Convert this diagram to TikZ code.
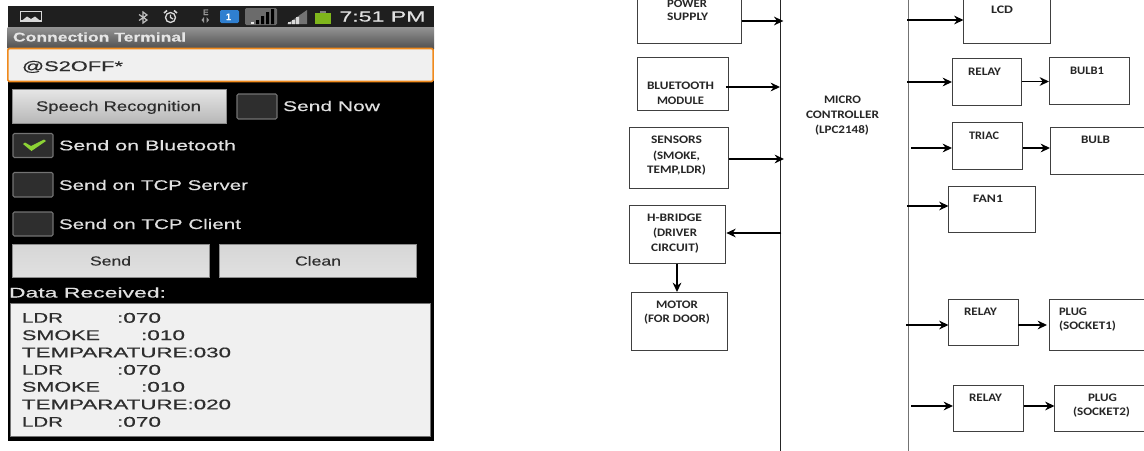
\documentclass[tikz,border=0pt]{standalone}
\usepackage{fontspec}
\usepackage{graphicx}
\setmainfont[FakeBold=0.35]{Liberation Sans}
\newfontfamily\blkfont{Carlito}[BoldFont={Carlito Bold}]
\usetikzlibrary{arrows.meta}
\newdimen\px \px=0.75pt
\newcount\tc
\definecolor{badge}{HTML}{2F7FD0}
\definecolor{batt}{HTML}{7FB61C}
\definecolor{tick}{HTML}{8CD235}
\definecolor{edge}{HTML}{F08A1C}
\tikzset{
  x=0.75pt,y=-0.75pt,
  uitext/.style={anchor=base west,inner sep=0pt,outer sep=0pt,font=\fontsize{10.5}{12}\selectfont},
  uilight/.style={uitext,text=white!88!black},
  uidark/.style={uitext,text=black!82},
  uibold/.style={uitext,text=white!90!black,font=\fontsize{9.5}{11}\bfseries\selectfont},
  blktext/.style={anchor=base west,inner sep=0pt,outer sep=0pt,text=black!85,font=\blkfont\fontsize{8.6}{10}\bfseries\selectfont},
  blk/.style={draw=black!75,line width=0.75pt,fill=none,inner sep=0pt,outer sep=0pt},
  arr/.style={draw=black,line width=1.25pt,-{Stealth[length=7pt,width=6.5pt]}},
  chk/.style={draw=black!55,fill=black!82,line width=0.8pt,rounded corners=1pt},
  btn/.style={draw=black!45,line width=0.4pt,top color=white!90!black,bottom color=white!72!black},
  btnb/.style={draw=black!45,line width=0.4pt,top color=white!84!black,bottom color=white!88!black},
}
\newcommand\tx[5]{\global\advance\tc by 1 \node[#1] (tx\the\tc) at (#2,#3) {\resizebox{#4\px}{\height}{#5}};}
\newcommand\dataline[6]{\global\advance\tc by 1 \node[uidark] (tx\the\tc) at (#1,#2) {\resizebox{#3\px}{\height}{#4}\hspace*{#5\px}\resizebox{44\px}{\height}{#6}};}
\newcommand\bx[6][]{\node[blk,#1,minimum width={(#5-#3)*0.75pt},minimum height={(#6-#4)*0.75pt}] (#2) at ({(#3+#5)/2},{(#4+#6)/2}) {};}
\begin{document}
\begin{tikzpicture}
\path[use as bounding box,clip] (0,0) rectangle (1144,450);
\fill[white] (0,0) rectangle (1144,450);
% phone
\fill[black] (7.5,6) rectangle (434,441);
\fill[black!88] (7.5,6) rectangle (434,27);
\shade[top color=black!42,bottom color=black!68] (7.5,27) rectangle (434,48);
% status icons
\draw[white!85!black,line width=0.9pt] (20.5,11.5) rectangle (41.5,21);
\fill[white!85!black] (22,20.5) -- (27,16.5) -- (31,19) -- (35,16.5) -- (40,20.5) -- cycle;
\draw[black!25,line width=0.9pt] (139,14.5) -- (147,20) -- (143,23) -- (143,12) -- (147,15) -- (139,20.5);
\draw[black!15,line width=1pt] (170.5,17.5) circle[radius=5];
\draw[black!15,line width=1pt] (170.5,14.5) -- (170.5,17.5) -- (173,19);
\draw[black!15,line width=1.2pt] (164,13) -- (167,10.5) (174,10.5) -- (177,13);
\tx{uitext,text=black!40,font=\fontsize{6}{7}\bfseries\selectfont}{203}{15}{5.5}{E}
\fill[black!40] (201.5,20) -- (204,17) -- (204,23) -- cycle (209,20) -- (206.5,17) -- (206.5,23) -- cycle;
\fill[badge,rounded corners=1pt] (220,10) rectangle (239,23);
\tx{uitext,text=white,font=\fontsize{7}{8}\bfseries\selectfont}{226}{20}{5}{1}
\fill[black!58,rounded corners=1pt] (245,8) rectangle (277,25);
\fill[white!90!black] (251,24) rectangle (254,22);
\fill[black] (256,24) rectangle (259,20) (261,24) rectangle (264,16) (266,24) rectangle (269,12) (271,24) rectangle (274,9);
\fill[black!55] (287,24) -- (307,10) -- (307,24) -- cycle;
\fill[white!85!black] (288,22) rectangle (291,24) (292,20) rectangle (295,24) (296,17) rectangle (299,24);
\fill[batt] (315,13) rectangle (331,24);
\fill[black!50] (320,11) rectangle (326,13);
\tx{uilight,font=\fontsize{11}{13}\selectfont}{339.5}{21.5}{86}{7:51 PM}
\tx{uibold}{13}{41.5}{173}{Connection Terminal}
% edit box
\node[draw=edge,line width=1.2pt,fill=white!94!black,rounded corners=1pt,minimum width=319pt,minimum height=24.75pt,inner sep=0pt,outer sep=0pt] (edit) at (220.5,65) {};
\tx{uidark}{22}{71}{101}{@S2OFF*}
% buttons and checks
\path[btn] (12,89.5) rectangle (226,123);
\tx{uidark}{36}{111}{165}{Speech Recognition}
\path[chk] (237,94) rectangle (277,119);
\tx{uilight}{283}{111}{97}{Send Now}
\path[chk] (13,133.5) rectangle (53,157.5);
\fill[tick] (23,144) -- (25,142.5) -- (31,146) -- (44,139.5) -- (46,141) -- (31.5,151) -- cycle;
\tx{uilight}{59}{150.3}{177}{Send on Bluetooth}
\path[chk] (13,172.5) rectangle (53,197);
\tx{uilight}{59}{190}{189}{Send on TCP Server}
\path[chk] (13,212) rectangle (53,236);
\tx{uilight}{59}{229}{182}{Send on TCP Client}
\path[btnb] (12,244) rectangle (209,277);
\path[btnb] (219,244) rectangle (416,277);
\tx{uidark,font=\fontsize{9.8}{11}\selectfont}{90}{265.5}{41}{Send}
\tx{uidark,font=\fontsize{9.8}{11}\selectfont}{295}{265.5}{46}{Clean}
\tx{uilight}{9}{297.5}{157}{Data Received:}
\path[draw=black!55,line width=0.6pt,fill=white!94!black] (10,303) rectangle (430.5,436);
\dataline{22}{322.7}{41}{LDR}{54}{:070}
\dataline{22}{340}{78}{SMOKE}{41}{:010}
\tx{uidark}{22}{357.3}{209}{TEMPARATURE:030}
\dataline{22}{374.7}{41}{LDR}{54}{:070}
\dataline{22}{391.7}{78}{SMOKE}{41}{:010}
\tx{uidark}{22}{409.3}{209}{TEMPARATURE:020}
\dataline{22}{426.7}{41}{LDR}{54}{:070}
% block diagram
\bx[draw=black!55]{mcu}{780}{-30}{908.5}{480}
\draw[black!85,line width=0.75pt] (mcu.north west) -- (mcu.south west);
\bx{pw}{637.5}{-30}{741.5}{43}
\bx{bt}{637.5}{57.5}{728.5}{110.5}
\bx{sn}{629.5}{127.5}{728.5}{188}
\bx{hb}{629.5}{205}{725}{263.5}
\bx{mo}{631.5}{292}{727}{350}
\bx{lcd}{963.5}{-30}{1050}{43}
\bx{r1}{952}{58.5}{1021.5}{105.5}
\bx{b1}{1049}{57.5}{1129.5}{104}
\bx{tr}{952}{122.5}{1022.5}{169}
\bx{b2}{1050}{127}{1150}{174}
\bx{fan}{948.5}{186}{1035.5}{232}
\bx{r2}{948.5}{299}{1018}{345}
\bx{p1}{1049}{299}{1150}{350}
\bx{r3}{953}{385}{1023.5}{431}
\bx{p2}{1054.5}{385}{1150}{431}
\tx{blktext}{667}{7}{40}{POWER}
\tx{blktext}{667}{20.7}{41}{SUPPLY}
\tx{blktext}{647}{89}{67}{BLUETOOTH}
\tx{blktext}{657}{104}{47}{MODULE}
\tx{blktext}{651}{143.7}{51}{SENSORS}
\tx{blktext}{653}{159}{47}{(SMOKE,}
\tx{blktext}{647}{173}{59}{TEMP,LDR)}
\tx{blktext}{824}{103}{37}{MICRO}
\tx{blktext}{806}{118}{73}{CONTROLLER}
\tx{blktext}{815}{133}{54}{(LPC2148)}
\tx{blktext}{647}{221.7}{55}{H-BRIDGE}
\tx{blktext}{653}{236.7}{44}{(DRIVER}
\tx{blktext}{651}{251.3}{48}{CIRCUIT)}
\tx{blktext}{656}{308.3}{42}{MOTOR}
\tx{blktext}{644}{322.3}{66}{(FOR DOOR)}
\tx{blktext}{991}{13.3}{22}{LCD}
\tx{blktext}{968}{75}{33}{RELAY}
\tx{blktext}{1070}{74}{34}{BULB1}
\tx{blktext}{969}{139}{30}{TRIAC}
\tx{blktext}{1081}{143.3}{29}{BULB}
\tx{blktext}{973}{202.3}{30}{FAN1}
\tx{blktext}{964}{315}{33}{RELAY}
\tx{blktext}{1059}{315}{28}{PLUG}
\tx{blktext}{1059}{329.3}{57}{(SOCKET1)}
\tx{blktext}{969}{401}{33}{RELAY}
\tx{blktext}{1088}{401}{29}{PLUG}
\tx{blktext}{1073}{415.3}{57}{(SOCKET2)}
% connectors
\draw[arr] (pw.east |- 0,21) -- ([xshift=2.5pt]mcu.west |- 0,21);
\draw[arr] ([xshift=-2pt]bt.east |- 0,87) -- (mcu.west |- 0,87);
\draw[arr] (sn.east |- 0,159) -- ([xshift=3pt]mcu.west |- 0,159);
\draw[arr] ([xshift=1pt]mcu.west |- 0,233) -- ([xshift=1pt]hb.east |- 0,233);
\draw[arr] (hb.south -| 677,0) -- (mo.north -| 677,0);
\draw[arr] ([xshift=-1pt]mcu.east |- 0,20) -- (lcd.west |- 0,20);
\draw[arr] ([xshift=-1pt]mcu.east |- 0,82) -- (r1.west |- 0,82);
\draw[arr] (r1.east |- 0,81.5) -- (b1.west |- 0,81.5);
\draw[arr] ([xshift=2pt]mcu.east |- 0,148) -- (tr.west |- 0,148);
\draw[arr] (tr.east |- 0,148) -- (b2.west |- 0,148);
\draw[arr] ([xshift=-1pt]mcu.east |- 0,206) -- (fan.west |- 0,206);
\draw[arr] ([xshift=-2pt]mcu.east |- 0,325) -- (r2.west |- 0,325);
\draw[arr] (r2.east |- 0,325) -- ([xshift=-1.5pt]p1.west |- 0,325);
\draw[arr] ([xshift=2pt]mcu.east |- 0,406) -- (r3.west |- 0,406);
\draw[arr] (r3.east |- 0,406) -- (p2.west |- 0,406);
\end{tikzpicture}
\end{document}
